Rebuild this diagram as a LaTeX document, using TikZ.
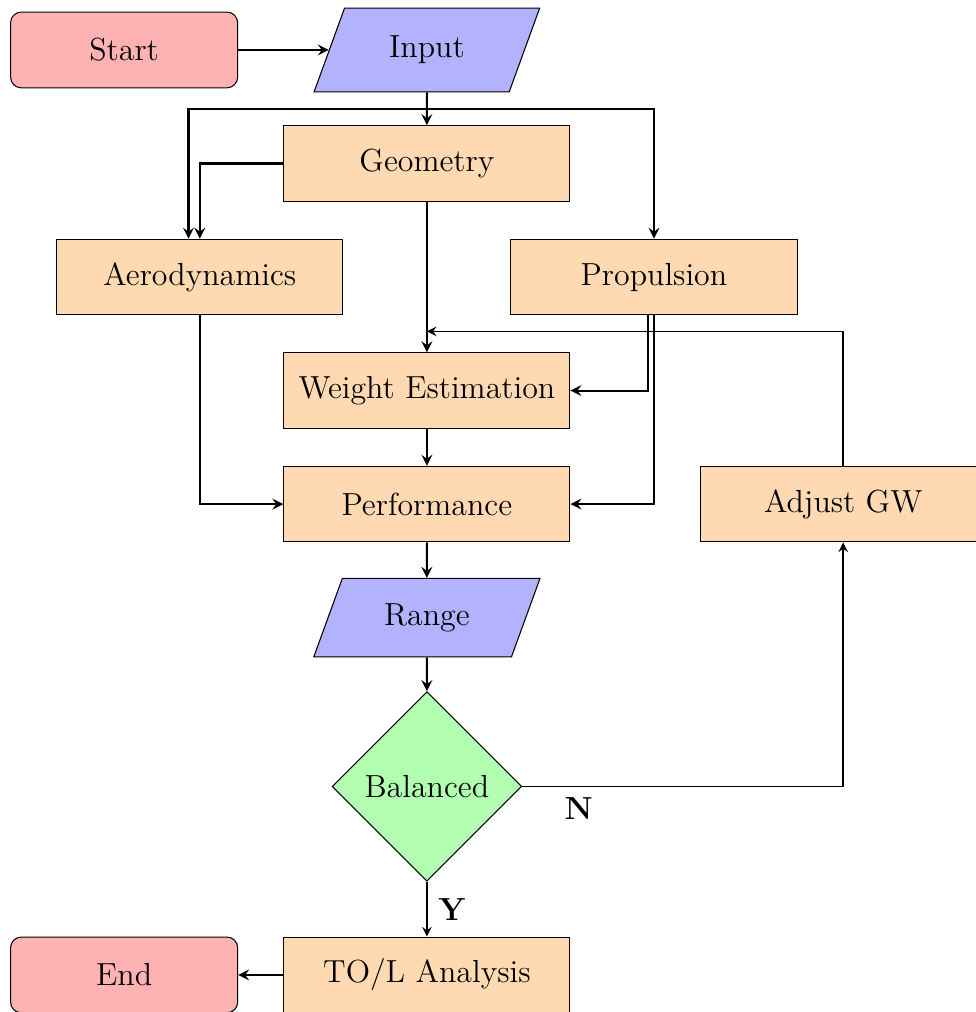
\documentclass[tikz,border=0pt,12pt]{standalone}
\usetikzlibrary{shapes.geometric,arrows,calc}
\tikzset{
	startstop/.style={rectangle, rounded corners, minimum width=3cm, minimum height=1cm, draw=black, fill=red!30},
	io/.style={trapezium, trapezium left angle=70, trapezium right angle=110, minimum width=3cm, minimum height=1.04cm, draw=black, fill=blue!30},
	process/.style={rectangle, minimum width=3.78cm, minimum height=1cm, draw=black, fill=orange!30},
	decision/.style={diamond, draw=black, fill=green!30},
	arrow/.style={thick,->,>=stealth},
	thinarrow/.style={semithick,->,>=stealth}
}
\begin{document}
\begin{tikzpicture}
		\useasboundingbox (-5.64,-12.71) rectangle (7.25,0.66);
		\node[startstop] (start) at (-4,0) {Start};
		\node[io, minimum height=1.1cm] (input) at (0,0) {Input};
		\node[process] (geometry) at (0,-1.5) {Geometry};
		\node[process] (aero) at (-3,-3) {Aerodynamics};
		\node[process] (prop) at (3,-3) {Propulsion};
		\node[process] (weight) at (0,-4.5) {Weight Estimation};
		\node[process] (perf) at (0,-6) {Performance};
		\node[process] (adjust) at (5.5,-6) {Adjust GW};
		\node[io] (range) at (0,-7.5) {Range};
		\node[decision] (balanced) at (0,-9.73) {Balanced};
		\node[process] (tol) at (0,-12.22) {TO/L Analysis};
		\node[startstop] (end) at (-4,-12.22) {End};
		\coordinate (split) at ($(input.south)!0.5!(geometry.north)$);
		\coordinate (loop) at ([yshift=0.275cm]weight.north);
		\draw[arrow] (start) -- (input);
		\draw[arrow] (input) -- (geometry);
		\draw[arrow] (split) -| ([xshift=-0.15cm]aero.north);
		\draw[arrow] (split) -| (prop.north);
		\draw[arrow] (geometry.west) -| (aero.north);
		\draw[arrow] (geometry) -- (weight);
		\draw[arrow] ([xshift=-0.08cm]prop.south) |- (weight.east);
		\draw[arrow] (prop.south) |- (perf.east);
		\draw[arrow] (aero.south) |- (perf.west);
		\draw[arrow] (weight) -- (perf);
		\draw[arrow] (perf) -- (range);
		\draw[arrow] (range) -- (balanced);
		\draw[thinarrow] (balanced.east) -- node[pos=0.176,below] {\textbf{N}} (balanced.east -| adjust.south) -- (adjust.south);
		\draw[thinarrow] (adjust.north) |- (loop);
		\draw[thinarrow] (balanced) -- node[right] {\textbf{Y}} (tol);
		\draw[arrow] (tol) -- (end);
	\end{tikzpicture}
\end{document}
